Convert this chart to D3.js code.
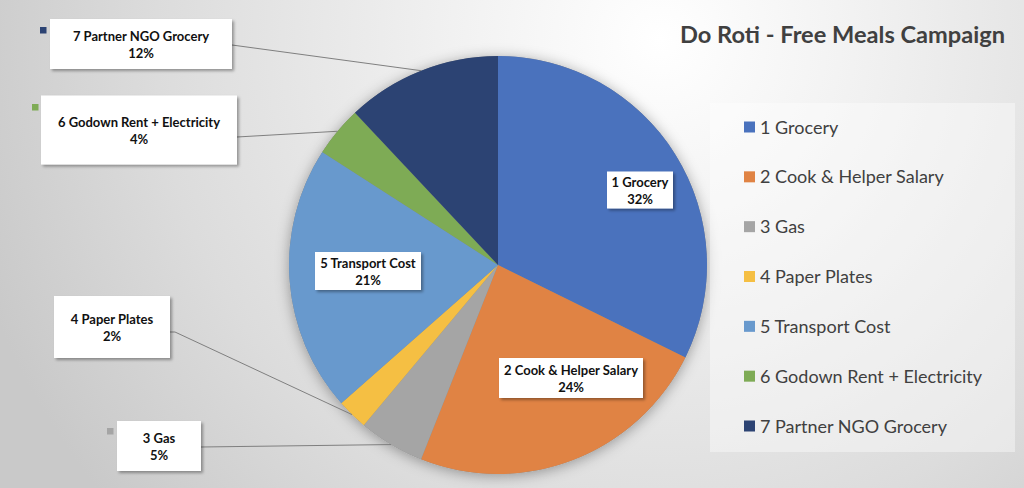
<!DOCTYPE html>
<html><head><meta charset="utf-8">
<script src="https://cdn.jsdelivr.net/npm/d3@7"></script>
<style>html,body{margin:0;padding:0;overflow:hidden;background:#fff}</style>
</head><body>
<svg id="chart" width="1024" height="488"></svg>
<script>
// ---- data ----
const categories = ["1 Grocery","2 Cook & Helper Salary","3 Gas","4 Paper Plates","5 Transport Cost","6 Godown Rent + Electricity","7 Partner NGO Grocery"];
const values = [32.3, 23.7, 5.1, 2.4, 20.6, 3.9, 12.0];
const colors = ["#4a72bd","#e08344","#a5a5a5","#f5bf43","#6899cd","#7eab55","#2c4373"];
const title = "Do Roti - Free Meals Campaign";

// ---- layout (label boxes: center x, y, width, height, outside?, show key) ----
const labelLayout = [
  {cx:640, cy:190, w:66,  h:37, out:false, key:false},
  {cx:571, cy:378, w:144, h:40, out:false, key:false},
  {cx:159, cy:446, w:84,  h:50, out:true,  key:true, kx:107, ky:428},
  {cx:112, cy:327, w:116, h:62, out:true,  key:false},
  {cx:368, cy:271, w:106, h:38, out:false, key:false},
  {cx:139, cy:130, w:196, h:69, out:true,  key:true, kx:32, ky:104},
  {cx:141, cy:44,  w:182, h:50, out:true,  key:true, kx:40, ky:27}
];

const W = 1024, H = 488;
const svg = d3.select("#chart");
const defs = svg.append("defs");

const bg = defs.append("radialGradient").attr("id","bg")
  .attr("gradientUnits","userSpaceOnUse").attr("cx",660).attr("cy",40).attr("r",720);
bg.append("stop").attr("offset","0").attr("stop-color","#ffffff");
bg.append("stop").attr("offset","0.25").attr("stop-color","#f3f3f3");
bg.append("stop").attr("offset","0.7").attr("stop-color","#dcdcdc");
bg.append("stop").attr("offset","1").attr("stop-color","#c9c9c9");

const pieShadow = defs.append("filter").attr("id","pieShadow")
  .attr("x","-20%").attr("y","-20%").attr("width","140%").attr("height","140%");
pieShadow.append("feDropShadow").attr("dx",0).attr("dy",2).attr("stdDeviation",7)
  .attr("flood-color","#000").attr("flood-opacity",0.35);

const boxShadow = defs.append("filter").attr("id","boxShadow")
  .attr("x","-20%").attr("y","-30%").attr("width","140%").attr("height","160%");
boxShadow.append("feDropShadow").attr("dx",2).attr("dy",2).attr("stdDeviation",1.5)
  .attr("flood-color","#000").attr("flood-opacity",0.35);

svg.append("rect").attr("width",W).attr("height",H).attr("fill","url(#bg)");

// title
svg.append("text").attr("x",1005).attr("y",43).attr("text-anchor","end")
  .attr("font-family","Lato, 'Open Sans', sans-serif").attr("font-weight","bold")
  .attr("font-size",23.6).attr("fill","#404040").text(title);

// pie
const cx = 498, cy = 265, R = 209;
const total = d3.sum(values);
const pie = d3.pie().sort(null).value(d => d)(values);
const arc = d3.arc().innerRadius(0).outerRadius(R);
const edgeArc = d3.arc().innerRadius(R).outerRadius(R);
const fmt = d3.format(".0%");

const g = svg.append("g").attr("transform",`translate(${cx},${cy})`);
g.append("circle").attr("r",R).attr("fill","#888").attr("filter","url(#pieShadow)");
g.selectAll("path.slice").data(pie).join("path").attr("class","slice")
  .attr("d",arc).attr("fill",(d,i)=>colors[i]);

// leader lines
labelLayout.forEach((L,i) => {
  if (!L.out) return;
  const p = edgeArc.centroid(pie[i]);
  const ex = cx + p[0], ey = cy + p[1];
  const bx = L.cx + L.w/2;
  const by = L.cy + (i === 3 ? 5 : (i === 5 ? 7 : 1));
  svg.append("polyline")
    .attr("points", i === 3 ? `${bx},${by} ${bx+5},${by} ${ex},${ey}` : `${bx},${by} ${ex},${ey}`)
    .attr("fill","none").attr("stroke","#7f7f7f").attr("stroke-width",1);
});

// label boxes
labelLayout.forEach((L,i) => {
  const lg = svg.append("g");
  lg.append("rect").attr("x",L.cx-L.w/2).attr("y",L.cy-L.h/2).attr("width",L.w).attr("height",L.h)
    .attr("fill","#fff").attr("filter","url(#boxShadow)");
  const t = lg.append("text").attr("text-anchor","middle")
    .attr("font-family","Lato, 'Open Sans', sans-serif").attr("font-weight","bold")
    .attr("font-size",13).attr("fill","#111");
  t.append("tspan").attr("x",L.cx).attr("y",L.cy-3.5).text(categories[i]);
  t.append("tspan").attr("x",L.cx).attr("y",L.cy+13.5).text(fmt(values[i]/total));
  if (L.key) {
    svg.append("rect").attr("x",L.kx).attr("y",L.ky).attr("width",6.5).attr("height",6.5).attr("fill",colors[i]);
  }
});

// legend
svg.append("rect").attr("x",710).attr("y",103).attr("width",305).attr("height",349)
  .attr("fill","#ffffff").attr("fill-opacity",0.4);
const ly = d3.scalePoint().domain(categories).range([127,426]);
const leg = svg.append("g");
categories.forEach((c,i) => {
  leg.append("rect").attr("x",744).attr("y",ly(c)-5.5).attr("width",11).attr("height",11).attr("fill",colors[i]);
  leg.append("text").attr("x",760).attr("y",ly(c)+6.5)
    .attr("font-family","Lato, 'Open Sans', sans-serif").attr("font-size",18)
    .attr("fill","#404040").text(c);
});
</script>
</body></html>
